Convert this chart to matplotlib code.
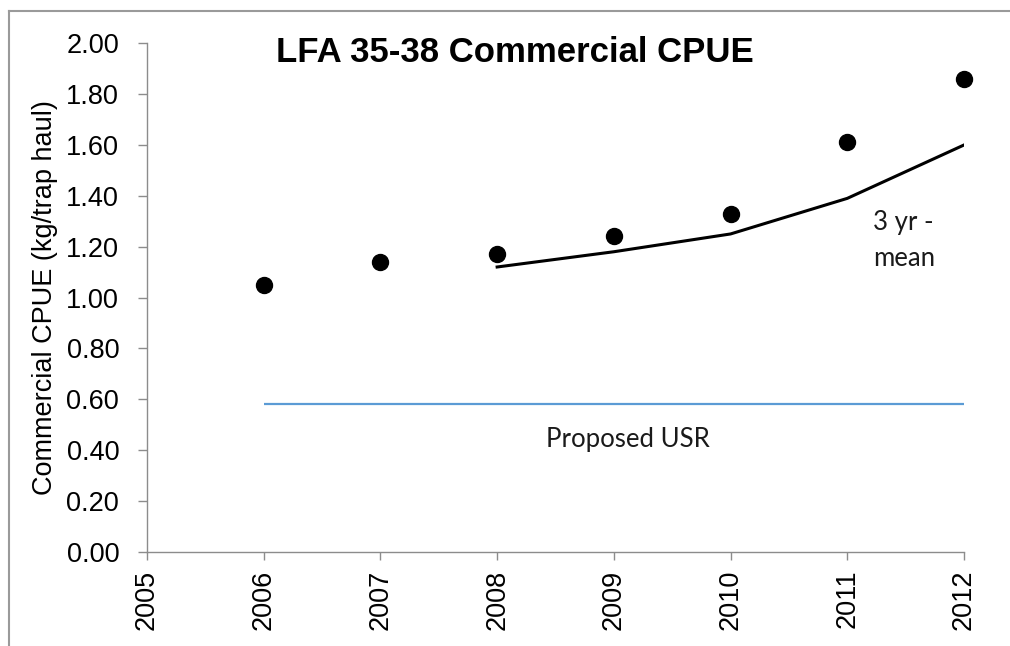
import matplotlib
matplotlib.use("Agg")
import matplotlib.pyplot as plt
from matplotlib.lines import Line2D

# Commercial CPUE, LFA 35-38
years = [2006, 2007, 2008, 2009, 2010, 2011, 2012]
cpue = [1.05, 1.14, 1.17, 1.24, 1.33, 1.61, 1.86]

# Three-year running mean (first value available in 2008)
mean_years = [2008, 2009, 2010, 2011, 2012]
mean_cpue = [1.12, 1.18, 1.25, 1.39, 1.60]

# Proposed upper stock reference
usr_years = [2006, 2012]
usr_value = 0.58

x_ticks = [2005, 2006, 2007, 2008, 2009, 2010, 2011, 2012]
y_ticks = [0.0, 0.2, 0.4, 0.6, 0.8, 1.0, 1.2, 1.4, 1.6, 1.8, 2.0]

W, H = 1010, 646
fig = plt.figure(figsize=(W / 100, H / 100), dpi=100)
fig.patch.set_facecolor("white")
fig.patch.set_edgecolor("white")
fig.patch.set_linewidth(0)

# chart frame (top and left edges)
frame_x, frame_y = 8.5 / W, 1 - 11 / H
fig.lines.append(Line2D([frame_x, 1.05], [frame_y, frame_y],
                        transform=fig.transFigure, color="#9a9a9a", lw=1.5))
fig.lines.append(Line2D([frame_x, frame_x], [-0.05, frame_y],
                        transform=fig.transFigure, color="#9a9a9a", lw=1.5))

ax = fig.add_axes([147 / W, (H - 551.7) / H, 817 / W, (551.7 - 43.3) / H])
ax.set_xlim(2005, 2012)
ax.set_ylim(0, 2.0)
ax.patch.set_alpha(0)

ax.plot(usr_years, [usr_value] * len(usr_years), color="#5B9BD5", lw=1.6,
        solid_capstyle="butt", zorder=2)
ax.plot(mean_years, mean_cpue, color="black", lw=2.2, zorder=3)
ax.plot(years, cpue, linestyle="none", marker="o", color="black",
        markersize=11.5, clip_on=False, zorder=4)

for side in ("top", "right"):
    ax.spines[side].set_visible(False)
for side in ("left", "bottom"):
    ax.spines[side].set_color("#8c8c8c")
    ax.spines[side].set_linewidth(1.0)

ax.set_xticks(x_ticks)
ax.set_xticklabels([str(v) for v in x_ticks], rotation=90, fontsize=19.5,
                   family="Liberation Sans")
ax.set_yticks(y_ticks)
ax.set_yticklabels([f"{v:.2f}" for v in y_ticks], fontsize=19.5,
                   family="Liberation Sans")
ax.tick_params(axis="y", direction="out", length=6.5, width=1.0,
               color="#8c8c8c", pad=13.5)
ax.tick_params(axis="x", direction="out", length=6, width=1.0,
               color="#8c8c8c", pad=7)

fig.text(45 / W, (H - 297.5) / H, "Commercial CPUE (kg/trap haul)",
         rotation=90, ha="center", va="center", fontsize=19.5,
         family="Liberation Sans")

fig.text(514.5 / W, (H - 62) / H, "LFA 35-38 Commercial CPUE",
         ha="center", va="baseline", fontsize=25, fontweight="bold",
         family="Liberation Sans")

ax.text(2011.22, 1.266, "3 yr -", ha="left", va="baseline", fontsize=18.5,
        family="Lato", color="#1a1a1a")
ax.text(2011.22, 1.124, "mean", ha="left", va="baseline", fontsize=18.5,
        family="Lato", color="#1a1a1a")
ax.text(2008.416, 0.413, "Proposed USR", ha="left", va="baseline",
        fontsize=18.5, family="Lato", color="#1a1a1a")

fig.savefig("out.png", dpi=100, facecolor="white", edgecolor="white")
